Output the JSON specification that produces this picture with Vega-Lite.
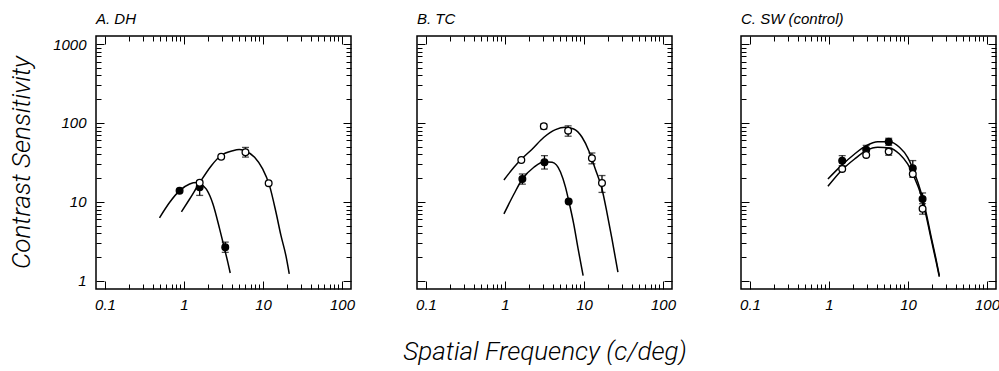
{
  "$schema": "https://vega.github.io/schema/vega-lite/v6.json",
  "padding": {"left": 7, "top": 10, "right": 0, "bottom": 0},
  "datasets": {
    "curves": [
      {"p":"A","s":"filled","f":0.49,"cs":6.3},{"p":"A","s":"filled","f":0.66,"cs":9.9},{"p":"A","s":"filled","f":0.88,"cs":13.9},{"p":"A","s":"filled","f":1.18,"cs":16.9},{"p":"A","s":"filled","f":1.45,"cs":17.6},{"p":"A","s":"filled","f":1.58,"cs":17.2},{"p":"A","s":"filled","f":1.92,"cs":14.5},{"p":"A","s":"filled","f":2.32,"cs":9.5},{"p":"A","s":"filled","f":2.82,"cs":4.6},{"p":"A","s":"filled","f":3.26,"cs":2.55},{"p":"A","s":"filled","f":3.59,"cs":1.72},{"p":"A","s":"filled","f":3.85,"cs":1.26},
      {"p":"A","s":"open","f":0.93,"cs":7.5},{"p":"A","s":"open","f":1.18,"cs":10.9},{"p":"A","s":"open","f":1.58,"cs":17.5},{"p":"A","s":"open","f":2.22,"cs":28.8},{"p":"A","s":"open","f":2.96,"cs":39},{"p":"A","s":"open","f":4.15,"cs":44.6},{"p":"A","s":"open","f":5.0,"cs":46},{"p":"A","s":"open","f":5.83,"cs":44.6},{"p":"A","s":"open","f":7.83,"cs":36.8},{"p":"A","s":"open","f":9.9,"cs":26.2},{"p":"A","s":"open","f":12.1,"cs":16.1},{"p":"A","s":"open","f":14.6,"cs":7.4},{"p":"A","s":"open","f":16.9,"cs":3.74},{"p":"A","s":"open","f":19.5,"cs":2.09},{"p":"A","s":"open","f":21.5,"cs":1.23},
      {"p":"B","s":"open","f":0.97,"cs":19},{"p":"B","s":"open","f":1.3,"cs":27.5},{"p":"B","s":"open","f":1.66,"cs":35.7},{"p":"B","s":"open","f":2.22,"cs":46.9},{"p":"B","s":"open","f":3.11,"cs":65.9},{"p":"B","s":"open","f":4.36,"cs":82.3},{"p":"B","s":"open","f":5.83,"cs":88.3},{"p":"B","s":"open","f":7.41,"cs":84},{"p":"B","s":"open","f":9.46,"cs":65.9},{"p":"B","s":"open","f":11.5,"cs":44.6},{"p":"B","s":"open","f":13.9,"cs":26.2},{"p":"B","s":"open","f":16.9,"cs":14.6},{"p":"B","s":"open","f":19.5,"cs":7.4},{"p":"B","s":"open","f":22.6,"cs":3.4},{"p":"B","s":"open","f":26.9,"cs":1.29},
      {"p":"B","s":"filled","f":0.97,"cs":7.05},{"p":"B","s":"filled","f":1.3,"cs":12.6},{"p":"B","s":"filled","f":1.66,"cs":19.5},{"p":"B","s":"filled","f":2.32,"cs":27.5},{"p":"B","s":"filled","f":3.11,"cs":32.4},{"p":"B","s":"filled","f":3.96,"cs":31.8},{"p":"B","s":"filled","f":5.04,"cs":24},{"p":"B","s":"filled","f":5.83,"cs":15.4},{"p":"B","s":"filled","f":6.4,"cs":10.4},{"p":"B","s":"filled","f":7.41,"cs":5.27},{"p":"B","s":"filled","f":8.43,"cs":2.54},{"p":"B","s":"filled","f":9.75,"cs":1.17},
      {"p":"C","s":"filled","f":0.97,"cs":19.5},{"p":"C","s":"filled","f":1.43,"cs":28.8},{"p":"C","s":"filled","f":2.11,"cs":40.5},{"p":"C","s":"filled","f":2.96,"cs":51.6},{"p":"C","s":"filled","f":4.15,"cs":58},{"p":"C","s":"filled","f":5.83,"cs":58},{"p":"C","s":"filled","f":7.8,"cs":49.2},{"p":"C","s":"filled","f":9.9,"cs":36.8},{"p":"C","s":"filled","f":12,"cs":23.8},{"p":"C","s":"filled","f":14.6,"cs":13.3},{"p":"C","s":"filled","f":16.9,"cs":7.4},{"p":"C","s":"filled","f":19.5,"cs":3.74},{"p":"C","s":"filled","f":22.6,"cs":1.9},{"p":"C","s":"filled","f":24.9,"cs":1.17},
      {"p":"C","s":"open","f":0.97,"cs":15.8},{"p":"C","s":"open","f":1.43,"cs":24.9},{"p":"C","s":"open","f":2.11,"cs":35},{"p":"C","s":"open","f":2.96,"cs":44.6},{"p":"C","s":"open","f":4.15,"cs":49.2},{"p":"C","s":"open","f":5.83,"cs":48.3},{"p":"C","s":"open","f":7.8,"cs":40.5},{"p":"C","s":"open","f":9.9,"cs":30.3},{"p":"C","s":"open","f":12,"cs":20.5},{"p":"C","s":"open","f":14.6,"cs":12.3},{"p":"C","s":"open","f":16.9,"cs":6.8},{"p":"C","s":"open","f":19.5,"cs":3.5},{"p":"C","s":"open","f":22.6,"cs":1.79},{"p":"C","s":"open","f":24.9,"cs":1.13}
    ],
    "points": [
      {"p":"A","s":"filled","f":0.88,"cs":13.9,"lo":null,"hi":null},
      {"p":"A","s":"filled","f":1.58,"cs":15.3,"lo":12.1,"hi":18.6},
      {"p":"A","s":"filled","f":3.33,"cs":2.67,"lo":2.3,"hi":3.1},
      {"p":"A","s":"open","f":1.58,"cs":17.5,"lo":null,"hi":null},
      {"p":"A","s":"open","f":2.96,"cs":37.4,"lo":null,"hi":null},
      {"p":"A","s":"open","f":6.0,"cs":42.6,"lo":37,"hi":49},
      {"p":"A","s":"open","f":11.8,"cs":17.3,"lo":null,"hi":null},
      {"p":"B","s":"open","f":1.61,"cs":34,"lo":null,"hi":null},
      {"p":"B","s":"open","f":3.1,"cs":90.8,"lo":84,"hi":97},
      {"p":"B","s":"open","f":6.3,"cs":80,"lo":68,"hi":92},
      {"p":"B","s":"open","f":12.6,"cs":35.7,"lo":30.4,"hi":41.7},
      {"p":"B","s":"open","f":16.9,"cs":17.4,"lo":13.2,"hi":21.6},
      {"p":"B","s":"filled","f":1.66,"cs":19.5,"lo":16.8,"hi":22.6},
      {"p":"B","s":"filled","f":3.16,"cs":31.8,"lo":26.1,"hi":38.6},
      {"p":"B","s":"filled","f":6.4,"cs":10.1,"lo":null,"hi":null},
      {"p":"C","s":"filled","f":1.47,"cs":33.3,"lo":28.8,"hi":38.6},
      {"p":"C","s":"filled","f":2.96,"cs":45.9,"lo":40,"hi":52},
      {"p":"C","s":"filled","f":5.7,"cs":58,"lo":52,"hi":64},
      {"p":"C","s":"filled","f":11.5,"cs":26.7,"lo":20.5,"hi":33.4},
      {"p":"C","s":"filled","f":15.3,"cs":10.9,"lo":8,"hi":13},
      {"p":"C","s":"open","f":1.47,"cs":26.2,"lo":null,"hi":null},
      {"p":"C","s":"open","f":2.96,"cs":39.4,"lo":null,"hi":null},
      {"p":"C","s":"open","f":5.7,"cs":43.4,"lo":39,"hi":48},
      {"p":"C","s":"open","f":11.5,"cs":22.6,"lo":null,"hi":null},
      {"p":"C","s":"open","f":15.3,"cs":8.2,"lo":7,"hi":9.5}
    ]
  },
  "spacing": 46,
  "hconcat": [
    {
      "width": 255, "height": 253,
      "title": {"text": "A. DH", "anchor": "start", "frame": "group", "font": "Liberation Sans", "fontStyle": "italic", "fontWeight": "normal", "fontSize": 15, "color": "black", "baseline": "alphabetic", "offset": -3},
      "resolve": {"axis": {"x": "independent", "y": "independent"}},
      "layer": [
        {
          "data": {"name": "curves"},
          "transform": [{"filter": "datum.p === 'A'"}],
          "mark": {"type": "line", "color": "black", "strokeWidth": 1.5, "interpolate": "monotone"},
          "encoding": {
            "x": {"field": "f", "type": "quantitative", "scale": {"type": "log", "domain": [0.077, 130], "nice": false},
              "axis": {"orient": "bottom", "title": null, "values": [0.1,0.2,0.3,0.4,0.5,0.6,0.7,0.8,0.9,1,2,3,4,5,6,7,8,9,10,20,30,40,50,60,70,80,90,100], "labelExpr": "(datum.value == 0.1 || datum.value == 1 || datum.value == 10 || datum.value == 100) ? datum.label : ''", "tickSize": {"condition": {"test": "datum.value == 0.1 || datum.value == 1 || datum.value == 10 || datum.value == 100", "value": -8}, "value": -5}, "labelOverlap": false, "labelFlush": false, "labelPadding": 16, "format": "~g"}},
            "y": {"field": "cs", "type": "quantitative", "scale": {"type": "log", "domain": [0.79, 1263], "nice": false},
              "axis": {"orient": "left", "values": [1,2,3,4,5,6,7,8,9,10,20,30,40,50,60,70,80,90,100,200,300,400,500,600,700,800,900,1000], "labelExpr": "(datum.value == 1 || datum.value == 10 || datum.value == 100 || datum.value == 1000) ? datum.label : ''", "tickSize": {"condition": {"test": "datum.value == 1 || datum.value == 10 || datum.value == 100 || datum.value == 1000", "value": -8}, "value": -5}, "labelOverlap": false, "labelFlush": false, "labelPadding": 18, "format": "~g",
                "title": "Contrast Sensitivity", "titleFont": "Roboto", "titleFontWeight": 300, "titleFontStyle": "italic", "titleFontSize": 26, "titleAngle": -90, "titleX": -67, "titleY": 126, "titleBaseline": "alphabetic", "titleAlign": "center"}},
            "detail": {"field": "s", "type": "nominal"}
          }
        },
        {
          "data": {"name": "points"},
          "transform": [{"filter": "datum.p === 'A' && datum.lo != null"}],
          "mark": {"type": "errorbar", "ticks": {"size": 7}, "color": "black", "thickness": 1.3},
          "encoding": {
            "x": {"field": "f", "type": "quantitative", "scale": {"type": "log", "domain": [0.077, 130], "nice": false}, "axis": null},
            "y": {"field": "lo", "type": "quantitative", "scale": {"type": "log", "domain": [0.79, 1263], "nice": false}, "axis": null},
            "y2": {"field": "hi"}
          }
        },
        {
          "data": {"name": "points"},
          "transform": [{"filter": "datum.p === 'A'"}],
          "mark": {"type": "point", "shape": "circle", "size": 45, "filled": true, "stroke": "black", "strokeWidth": 1.3, "opacity": 1},
          "encoding": {
            "x": {"field": "f", "type": "quantitative", "scale": {"type": "log", "domain": [0.077, 130], "nice": false},
              "axis": {"orient": "top", "title": null, "labels": false, "minExtent": 0, "maxExtent": 0, "values": [0.1,0.2,0.3,0.4,0.5,0.6,0.7,0.8,0.9,1,2,3,4,5,6,7,8,9,10,20,30,40,50,60,70,80,90,100], "tickSize": {"condition": {"test": "datum.value == 0.1 || datum.value == 1 || datum.value == 10 || datum.value == 100", "value": -8}, "value": -5}}},
            "y": {"field": "cs", "type": "quantitative", "scale": {"type": "log", "domain": [0.79, 1263], "nice": false},
              "axis": {"orient": "right", "title": null, "labels": false, "minExtent": 0, "maxExtent": 0, "values": [1,2,3,4,5,6,7,8,9,10,20,30,40,50,60,70,80,90,100,200,300,400,500,600,700,800,900,1000], "tickSize": {"condition": {"test": "datum.value == 1 || datum.value == 10 || datum.value == 100 || datum.value == 1000", "value": -8}, "value": -5}}},
            "fill": {"field": "s", "type": "nominal", "scale": {"domain": ["filled", "open"], "range": ["black", "white"]}, "legend": null}
          }
        }
      ]
    },
    {
      "width": 255, "height": 253,
      "title": {"text": "B. TC", "anchor": "start", "frame": "group", "font": "Liberation Sans", "fontStyle": "italic", "fontWeight": "normal", "fontSize": 15, "color": "black", "baseline": "alphabetic", "offset": -3},
      "resolve": {"axis": {"x": "independent", "y": "independent"}},
      "layer": [
        {
          "data": {"name": "curves"},
          "transform": [{"filter": "datum.p === 'B'"}],
          "mark": {"type": "line", "color": "black", "strokeWidth": 1.5, "interpolate": "monotone"},
          "encoding": {
            "x": {"field": "f", "type": "quantitative", "scale": {"type": "log", "domain": [0.077, 130], "nice": false},
              "axis": {"orient": "bottom", "values": [0.1,0.2,0.3,0.4,0.5,0.6,0.7,0.8,0.9,1,2,3,4,5,6,7,8,9,10,20,30,40,50,60,70,80,90,100], "labelExpr": "(datum.value == 0.1 || datum.value == 1 || datum.value == 10 || datum.value == 100) ? datum.label : ''", "tickSize": {"condition": {"test": "datum.value == 0.1 || datum.value == 1 || datum.value == 10 || datum.value == 100", "value": -8}, "value": -5}, "labelOverlap": false, "labelFlush": false, "labelPadding": 16, "format": "~g",
                "title": "Spatial Frequency (c/deg)", "titleFont": "Roboto", "titleFontWeight": 300, "titleFontStyle": "italic", "titleFontSize": 26, "titleY": 70, "titleBaseline": "alphabetic", "titleAlign": "center", "titleAnchor": "middle"}},
            "y": {"field": "cs", "type": "quantitative", "scale": {"type": "log", "domain": [0.79, 1263], "nice": false},
              "axis": {"orient": "left", "title": null, "labels": false, "minExtent": 0, "maxExtent": 0, "values": [1,2,3,4,5,6,7,8,9,10,20,30,40,50,60,70,80,90,100,200,300,400,500,600,700,800,900,1000], "tickSize": {"condition": {"test": "datum.value == 1 || datum.value == 10 || datum.value == 100 || datum.value == 1000", "value": -8}, "value": -5}}},
            "detail": {"field": "s", "type": "nominal"}
          }
        },
        {
          "data": {"name": "points"},
          "transform": [{"filter": "datum.p === 'B' && datum.lo != null"}],
          "mark": {"type": "errorbar", "ticks": {"size": 7}, "color": "black", "thickness": 1.3},
          "encoding": {
            "x": {"field": "f", "type": "quantitative", "scale": {"type": "log", "domain": [0.077, 130], "nice": false}, "axis": null},
            "y": {"field": "lo", "type": "quantitative", "scale": {"type": "log", "domain": [0.79, 1263], "nice": false}, "axis": null},
            "y2": {"field": "hi"}
          }
        },
        {
          "data": {"name": "points"},
          "transform": [{"filter": "datum.p === 'B'"}],
          "mark": {"type": "point", "shape": "circle", "size": 45, "filled": true, "stroke": "black", "strokeWidth": 1.3, "opacity": 1},
          "encoding": {
            "x": {"field": "f", "type": "quantitative", "scale": {"type": "log", "domain": [0.077, 130], "nice": false},
              "axis": {"orient": "top", "title": null, "labels": false, "minExtent": 0, "maxExtent": 0, "values": [0.1,0.2,0.3,0.4,0.5,0.6,0.7,0.8,0.9,1,2,3,4,5,6,7,8,9,10,20,30,40,50,60,70,80,90,100], "tickSize": {"condition": {"test": "datum.value == 0.1 || datum.value == 1 || datum.value == 10 || datum.value == 100", "value": -8}, "value": -5}}},
            "y": {"field": "cs", "type": "quantitative", "scale": {"type": "log", "domain": [0.79, 1263], "nice": false},
              "axis": {"orient": "right", "title": null, "labels": false, "minExtent": 0, "maxExtent": 0, "values": [1,2,3,4,5,6,7,8,9,10,20,30,40,50,60,70,80,90,100,200,300,400,500,600,700,800,900,1000], "tickSize": {"condition": {"test": "datum.value == 1 || datum.value == 10 || datum.value == 100 || datum.value == 1000", "value": -8}, "value": -5}}},
            "fill": {"field": "s", "type": "nominal", "scale": {"domain": ["filled", "open"], "range": ["black", "white"]}, "legend": null}
          }
        }
      ]
    },
    {
      "width": 255, "height": 253,
      "title": {"text": "C. SW (control)", "anchor": "start", "frame": "group", "font": "Liberation Sans", "fontStyle": "italic", "fontWeight": "normal", "fontSize": 15, "color": "black", "baseline": "alphabetic", "offset": -3},
      "resolve": {"axis": {"x": "independent", "y": "independent"}},
      "layer": [
        {
          "data": {"name": "curves"},
          "transform": [{"filter": "datum.p === 'C'"}],
          "mark": {"type": "line", "color": "black", "strokeWidth": 1.5, "interpolate": "monotone"},
          "encoding": {
            "x": {"field": "f", "type": "quantitative", "scale": {"type": "log", "domain": [0.077, 130], "nice": false},
              "axis": {"orient": "bottom", "title": null, "values": [0.1,0.2,0.3,0.4,0.5,0.6,0.7,0.8,0.9,1,2,3,4,5,6,7,8,9,10,20,30,40,50,60,70,80,90,100], "labelExpr": "(datum.value == 0.1 || datum.value == 1 || datum.value == 10 || datum.value == 100) ? datum.label : ''", "tickSize": {"condition": {"test": "datum.value == 0.1 || datum.value == 1 || datum.value == 10 || datum.value == 100", "value": -8}, "value": -5}, "labelOverlap": false, "labelFlush": false, "labelPadding": 16, "format": "~g"}},
            "y": {"field": "cs", "type": "quantitative", "scale": {"type": "log", "domain": [0.79, 1263], "nice": false},
              "axis": {"orient": "left", "title": null, "labels": false, "minExtent": 7, "maxExtent": 7, "values": [1,2,3,4,5,6,7,8,9,10,20,30,40,50,60,70,80,90,100,200,300,400,500,600,700,800,900,1000], "tickSize": {"condition": {"test": "datum.value == 1 || datum.value == 10 || datum.value == 100 || datum.value == 1000", "value": -8}, "value": -5}}},
            "detail": {"field": "s", "type": "nominal"}
          }
        },
        {
          "data": {"name": "points"},
          "transform": [{"filter": "datum.p === 'C' && datum.lo != null"}],
          "mark": {"type": "errorbar", "ticks": {"size": 7}, "color": "black", "thickness": 1.3},
          "encoding": {
            "x": {"field": "f", "type": "quantitative", "scale": {"type": "log", "domain": [0.077, 130], "nice": false}, "axis": null},
            "y": {"field": "lo", "type": "quantitative", "scale": {"type": "log", "domain": [0.79, 1263], "nice": false}, "axis": null},
            "y2": {"field": "hi"}
          }
        },
        {
          "data": {"name": "points"},
          "transform": [{"filter": "datum.p === 'C'"}],
          "mark": {"type": "point", "shape": "circle", "size": 45, "filled": true, "stroke": "black", "strokeWidth": 1.3, "opacity": 1},
          "encoding": {
            "x": {"field": "f", "type": "quantitative", "scale": {"type": "log", "domain": [0.077, 130], "nice": false},
              "axis": {"orient": "top", "title": null, "labels": false, "minExtent": 0, "maxExtent": 0, "values": [0.1,0.2,0.3,0.4,0.5,0.6,0.7,0.8,0.9,1,2,3,4,5,6,7,8,9,10,20,30,40,50,60,70,80,90,100], "tickSize": {"condition": {"test": "datum.value == 0.1 || datum.value == 1 || datum.value == 10 || datum.value == 100", "value": -8}, "value": -5}}},
            "y": {"field": "cs", "type": "quantitative", "scale": {"type": "log", "domain": [0.79, 1263], "nice": false},
              "axis": {"orient": "right", "title": null, "labels": false, "minExtent": 0, "maxExtent": 0, "values": [1,2,3,4,5,6,7,8,9,10,20,30,40,50,60,70,80,90,100,200,300,400,500,600,700,800,900,1000], "tickSize": {"condition": {"test": "datum.value == 1 || datum.value == 10 || datum.value == 100 || datum.value == 1000", "value": -8}, "value": -5}}},
            "fill": {"field": "s", "type": "nominal", "scale": {"domain": ["filled", "open"], "range": ["black", "white"]}, "legend": null}
          }
        }
      ]
    }
  ],
  "config": {
    "view": {"stroke": "black", "strokeWidth": 1.5},
    "axis": {"domain": false, "grid": false, "tickColor": "black", "tickWidth": 1, "labelFont": "Liberation Sans", "labelFontStyle": "italic", "labelFontSize": 15, "labelColor": "black", "titleColor": "black"}
  }
}
